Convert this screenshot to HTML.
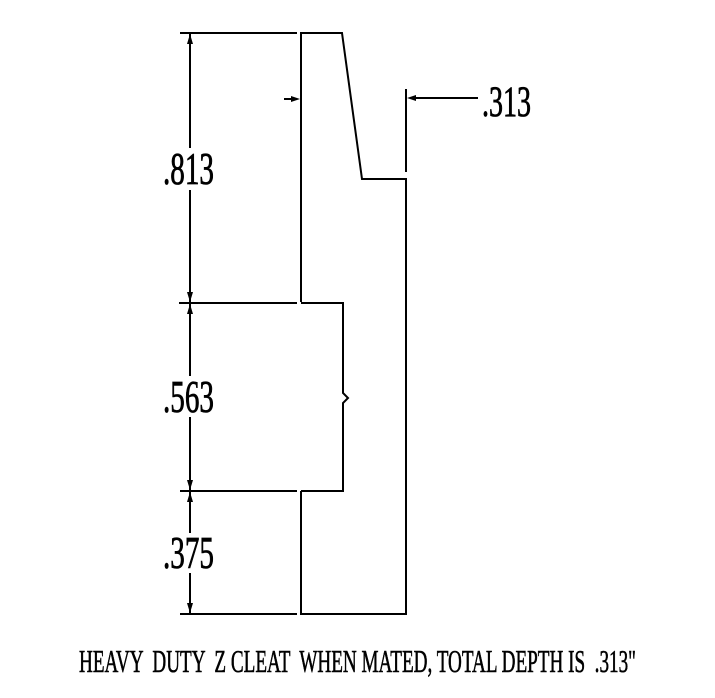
<!DOCTYPE html>
<html><head><meta charset="utf-8"><style>
html,body{margin:0;padding:0;background:#fff;}
svg{display:block;}
text{font-family:"Liberation Serif",serif;fill:#000;stroke:#000;stroke-width:0.8;}
</style></head><body>
<svg width="715" height="698" viewBox="0 0 715 698" xmlns="http://www.w3.org/2000/svg">
<g stroke="#000" stroke-width="2" fill="none">
<line x1="180" y1="33" x2="297" y2="33"/>
<line x1="179" y1="303" x2="297" y2="303"/>
<line x1="180" y1="491" x2="297" y2="491"/>
<line x1="180" y1="614" x2="297" y2="614"/>
<line x1="190" y1="33" x2="190" y2="148"/>
<line x1="190" y1="190" x2="190" y2="303"/>
<line x1="190" y1="303" x2="190" y2="376"/>
<line x1="190" y1="417" x2="190" y2="491"/>
<line x1="190" y1="491" x2="190" y2="533"/>
<line x1="190" y1="573" x2="190" y2="614"/>
<polyline points="301,302 301,33 342,33 362,179 406,179 406,614 301,614 301,491"/>
<polyline points="301,303 343,303 343,393 348,398 343,403 343,491 301,491"/>
<line x1="406" y1="89" x2="406" y2="172"/>
<line x1="284" y1="99" x2="296" y2="99"/>
<line x1="412" y1="98" x2="478" y2="98"/>
</g>
<g fill="#000">
<polygon points="190,34 187,44 193,44"/>
<polygon points="190,302 187,292 193,292"/>
<polygon points="190,304 187,314 193,314"/>
<polygon points="190,490 187,480 193,480"/>
<polygon points="190,492 187,502 193,502"/>
<polygon points="190,613 187,603 193,603"/>
<polygon points="300,99 291,96 291,102"/>
<polygon points="407,98 416,95 416,101"/>
</g>
<text x="163" y="184" font-size="45" textLength="51" lengthAdjust="spacingAndGlyphs">.813</text>
<text x="163" y="412" font-size="45" textLength="51" lengthAdjust="spacingAndGlyphs">.563</text>
<text x="163" y="568" font-size="45" textLength="51" lengthAdjust="spacingAndGlyphs">.375</text>
<text x="482" y="116" font-size="43" textLength="49" lengthAdjust="spacingAndGlyphs">.313</text>
<text x="79" y="672" font-size="32" style="stroke-width:0.6" textLength="557" lengthAdjust="spacingAndGlyphs" xml:space="preserve">HEAVY  DUTY  Z CLEAT  WHEN MATED, TOTAL DEPTH IS  .313"</text>
</svg>
</body></html>
